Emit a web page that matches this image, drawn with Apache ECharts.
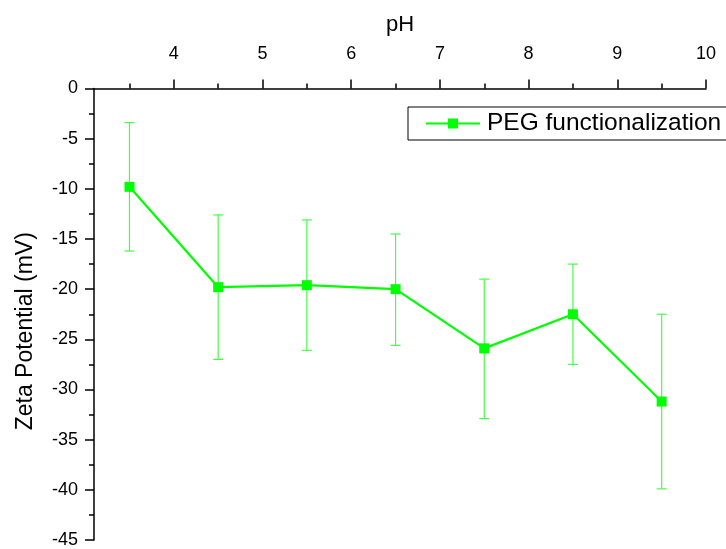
<!DOCTYPE html>
<html>
<head>
<meta charset="utf-8">
<script src="https://cdn.jsdelivr.net/npm/echarts@6/dist/echarts.min.js"></script>
<style>
  html, body { margin: 0; padding: 0; background: #ffffff; }
  #chart { width: 726px; height: 549px; }
</style>
</head>
<body>
<div id="chart"></div>
<script>
// Zeta potential of PEG-functionalized particles versus pH (mean with error range)
const phValues   = [3.5, 4.5, 5.5, 6.5, 7.5, 8.5, 9.5];
const zetaMean   = [-9.8, -19.8, -19.6, -20.0, -25.9, -22.5, -31.2];
const zetaUpper  = [-3.4, -12.6, -13.1, -14.5, -19.0, -17.5, -22.5];
const zetaLower  = [-16.2, -27.0, -26.1, -25.6, -32.9, -27.5, -39.9];
const xMajorTicks = [4, 5, 6, 7, 8, 9, 10];
const xMinorTicks = [3.5, 4.5, 5.5, 6.5, 7.5, 8.5, 9.5];
const seriesName = 'PEG functionalization';

const FONT = 'Liberation Sans, Arial, sans-serif';
const GREEN = '#00ff00';

const meanData = phValues.map((x, i) => [x, zetaMean[i]]);
const errData = phValues.map((x, i) => [x, zetaLower[i], zetaUpper[i]]);

const chart = echarts.init(document.getElementById('chart'), null, { renderer: 'canvas' });

chart.setOption({
  animation: false,
  backgroundColor: '#ffffff',
  grid: { left: 94, right: 20, top: 88.5, bottom: 7, containLabel: false },
  legend: {
    data: [seriesName],
    left: 408,
    top: 107,
    orient: 'horizontal',
    itemWidth: 54,
    itemHeight: 10,
    icon: 'path://M0,4 L54,4 L54,6 L0,6 Z M22,0 L32,0 L32,10 L22,10 Z',
    borderColor: '#000000',
    borderWidth: 1,
    borderRadius: 0,
    padding: [4, 40, 4, 18],
    textStyle: { fontFamily: FONT, fontSize: 24.5, color: '#000000', padding: [0, 0, 0, 2] }
  },
  xAxis: [
    {
      type: 'value',
      position: 'top',
      min: 3.1,
      max: 10,
      name: 'pH',
      nameLocation: 'middle',
      nameGap: 53,
      nameTextStyle: { fontFamily: FONT, fontSize: 22, color: '#000000' },
      axisLine: { show: true, onZero: false, lineStyle: { color: '#000000', width: 1.5 } },
      axisTick: { show: true, customValues: xMajorTicks, length: 9, lineStyle: { color: '#000000', width: 1.5 } },
      axisLabel: { show: true, customValues: xMajorTicks, margin: 25, fontFamily: FONT, fontSize: 18, color: '#000000' },
      splitLine: { show: false }
    },
    {
      type: 'value',
      position: 'top',
      min: 3.1,
      max: 10,
      axisLine: { show: false, onZero: false },
      axisTick: { show: true, customValues: xMinorTicks, length: 5, lineStyle: { color: '#000000', width: 1.5 } },
      axisLabel: { show: false },
      splitLine: { show: false }
    }
  ],
  yAxis: {
    type: 'value',
    min: -45,
    max: 0,
    interval: 5,
    name: 'Zeta Potential (mV)',
    nameLocation: 'middle',
    nameGap: 57,
    nameTextStyle: { fontFamily: FONT, fontSize: 23, color: '#000000', padding: [0, 34, 0, 0] },
    axisLine: { show: true, onZero: false, lineStyle: { color: '#000000', width: 1.5 } },
    axisTick: { show: true, length: 9, lineStyle: { color: '#000000', width: 1.5 } },
    minorTick: { show: true, splitNumber: 2, length: 5, lineStyle: { color: '#000000', width: 1.5 } },
    axisLabel: { margin: 16, fontFamily: FONT, fontSize: 18, color: '#000000' },
    splitLine: { show: false },
    minorSplitLine: { show: false }
  },
  series: [
    {
      name: 'error',
      type: 'custom',
      xAxisIndex: 0,
      z: 2,
      data: errData,
      renderItem: function (params, api) {
        const x = api.value(0);
        const lo = api.coord([x, api.value(1)]);
        const hi = api.coord([x, api.value(2)]);
        const cap = 5;
        const style = { stroke: '#44ff44', lineWidth: 1.2, fill: null };
        return {
          type: 'group',
          children: [
            { type: 'line', shape: { x1: hi[0], y1: hi[1], x2: lo[0], y2: lo[1] }, style: style },
            { type: 'line', shape: { x1: hi[0] - cap, y1: hi[1], x2: hi[0] + cap, y2: hi[1] }, style: style },
            { type: 'line', shape: { x1: lo[0] - cap, y1: lo[1], x2: lo[0] + cap, y2: lo[1] }, style: style }
          ]
        };
      }
    },
    {
      name: seriesName,
      type: 'line',
      xAxisIndex: 0,
      z: 3,
      data: meanData,
      symbol: 'rect',
      symbolSize: 10,
      showAllSymbol: true,
      itemStyle: { color: GREEN },
      lineStyle: { color: GREEN, width: 2.2 }
    }
  ]
});
</script>
</body>
</html>
